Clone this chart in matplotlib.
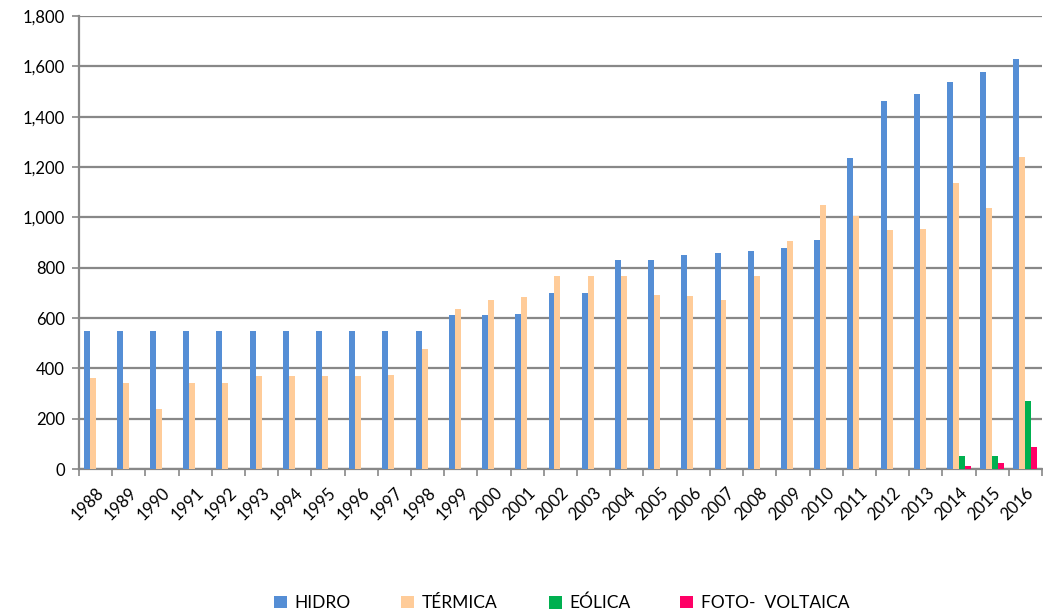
import matplotlib
matplotlib.use("Agg")
import matplotlib.pyplot as plt
import numpy as np
from matplotlib.ticker import FuncFormatter
from matplotlib.patches import Patch

years = [str(y) for y in range(1988, 2017)]
hidro = [550, 550, 550, 550, 550, 550, 550, 550, 550, 550, 550,
         612, 612, 614, 700, 700, 830, 830, 850, 858, 868, 878, 911,
         1237, 1463, 1491, 1536, 1577, 1630]
termica = [360, 340, 240, 340, 340, 370, 370, 370, 370, 372, 478,
           636, 670, 683, 768, 768, 766, 693, 687, 670, 766, 907, 1050,
           1006, 951, 952, 1136, 1038, 1238]
eolica = [0] * 26 + [53, 53, 269]
foto = [0] * 26 + [13, 24, 89]

series = [("HIDRO", hidro, "#558ED5"),
          ("TÉRMICA", termica, "#FFCC99"),
          ("EÓLICA", eolica, "#00B050"),
          ("FOTO-  VOLTAICA", foto, "#FF0066")]

plt.rcParams['font.family'] = ['Lato', 'DejaVu Sans']
fig = plt.figure(figsize=(10.43, 6.16), dpi=100)
ax = fig.add_axes([0.0757, 0.2386, 0.9233, 0.7354])

x = np.arange(len(years))
w = 0.18
for i, (name, vals, col) in enumerate(series):
    ax.bar(x + (i - 1.5) * w, vals, width=w, color=col, zorder=3, linewidth=0)

ax.set_xlim(-0.5, len(years) - 0.5)
ax.set_ylim(0, 1800)
ax.set_yticks(range(0, 1801, 200))
ax.yaxis.set_major_formatter(FuncFormatter(lambda v, p: f"{int(v):,}"))
ax.grid(axis='y', color='#888888', linewidth=1.6, zorder=0)
ax.set_axisbelow(True)

ax.set_xticks(x)
ax.set_xticklabels(years, rotation=45, ha='right', rotation_mode='anchor')
ax.set_xticks(np.arange(-0.5, len(years), 1), minor=True)
ax.tick_params(axis='x', which='major', length=0, labelsize=12, pad=11)
ax.tick_params(axis='x', which='minor', length=5, width=1.2, color='#888888')
ax.tick_params(axis='y', length=5, width=1.2, color='#888888', labelsize=12, pad=5)

for s in ['top', 'right']:
    ax.spines[s].set_visible(False)
for s in ['left', 'bottom']:
    ax.spines[s].set_color('#888888')
    ax.spines[s].set_linewidth(1.6)

legend_x = [274, 401, 549, 680]
for (name, _, col), lx in zip(series, legend_x):
    fig.legend(handles=[Patch(facecolor=col, label=name)], loc='center left',
               bbox_to_anchor=(lx / 1043, 1 - 603 / 616), frameon=False,
               fontsize=12.5, handlelength=0.75, handleheight=0.75,
               handletextpad=0.45, borderpad=0, borderaxespad=0)

fig.savefig("out.png", dpi=100)
